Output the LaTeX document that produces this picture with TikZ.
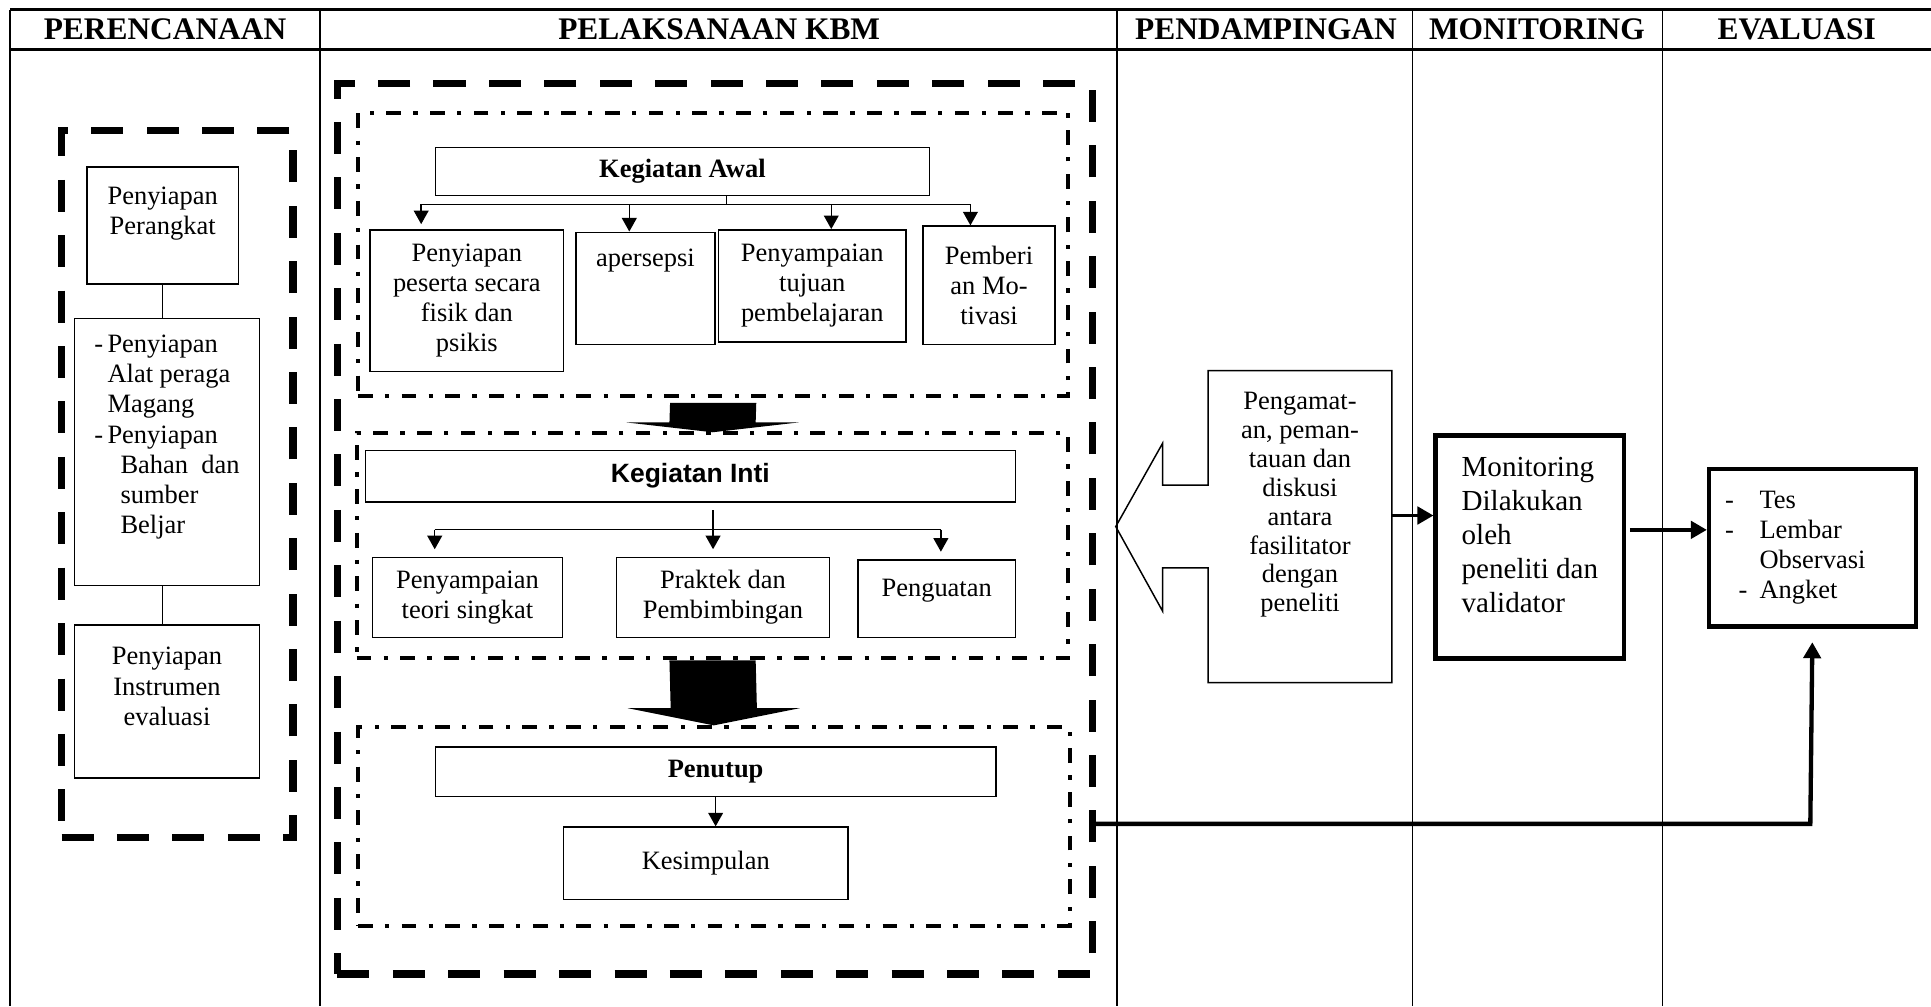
\documentclass[tikz,border=0pt]{standalone}
\usepackage{fontspec}
\setmainfont{Liberation Serif}
\newfontfamily\arialfont{Liberation Sans}
\usetikzlibrary{arrows.meta}

\begin{document}
\begin{tikzpicture}[x=1pt,y=-1pt,
  dims/.style 2 args={minimum width=#1pt,minimum height=#2pt},
  box/.style={draw,line width=1.2pt,anchor=north west,inner sep=0pt,align=center,
    font=\fontsize{21.5}{24.5}\selectfont},
  boldbox/.style={box,font=\fontsize{21.5}{24.5}\selectfont\bfseries},
  heavybox/.style={box,line width=3.5pt},
  longdash/.style={draw,line width=6pt,dash pattern=on 26pt off 19pt,
    anchor=north west,inner sep=0pt},
  dashdot/.style={draw,line width=3.2pt,dash pattern=on 12pt off 10pt on 3.5pt off 10pt,
    anchor=north west,inner sep=0pt},
  head/.style={font=\fontsize{25.5}{28}\selectfont\bfseries},
  tip/.style={line width=1.2pt,-{Triangle[length=11pt,width=12pt]}},
  heavytip/.style={line width=3.2pt,-{Triangle[length=13pt,width=14pt]}}
]
\useasboundingbox (0,0) rectangle (1568,817);

% table frame and column titles
\draw[line width=2.4pt] (8,8) -- (1568,8) (8,40) -- (1568,40);
\draw[line width=2pt] (8,8) -- (8,817);
\foreach \x in {260,907,1147,1350}
  \draw[line width=1.3pt] (\x,8) -- (\x,817);
\node[head] (hren) at (134,24) {PERENCANAAN};
\node[head] (hkbm) at (584,24) {PELAKSANAAN KBM};
\node[head] (hpend) at (1028,24) {PENDAMPINGAN};
\node[head] (hmon) at (1248,24) {MONITORING};
\node[head] (heval) at (1459,24) {EVALUASI};

% perencanaan
\node[longdash,dims={188}{574}] (ren) at (47,103) {};
\node[box,dims={123}{95}] (prep) at (70,135) {Penyiapan\\Perangkat\\~};
\node[box,dims={150}{217}] (alat) at (60,258) {%
  \begin{tabular}{@{}r@{\,}l@{}}
  -&Penyiapan\\ &Alat peraga\\ &Magang\\
  -&Penyiapan\\ &\hspace*{10.6pt}Bahan\ \ dan\\ &\hspace*{10.6pt}sumber\\
   &\hspace*{10.6pt}Beljar\\ &
  \end{tabular}};
\node[box,dims={150}{124}] (instr) at (60,507) {Penyiapan\\Instrumen\\evaluasi\\~};
\draw[line width=1.2pt] (prep.south) -- (prep.south |- alat.north)
  (prep.south |- alat.south) -- (prep.south |- instr.north);

% pelaksanaan kbm
\node[longdash,dims={613}{723}] (kbm) at (271,65) {};

% kegiatan awal
\node[dashdot,dims={577}{230}] (awalframe) at (289,90) {};
\node[boldbox,dims={401}{39}] (awal) at (353,119) {Kegiatan Awal};
\node[box,dims={157}{115}] (siap) at (300,186) {Penyiapan\\peserta secara\\fisik dan\\psikis};
\node[box,dims={113}{91}] (apers) at (467,188) {apersepsi\\~\\~};
\node[box,dims={152}{91}] (tujuan) at (583,186) {Penyampaian\\tujuan\\pembelajaran};
\node[box,dims={107}{96}] (motiv) at (749,183) {Pemberi\\an Mo-\\tivasi};
\coordinate (awj) at (590,166);
\coordinate (awl) at (342,166);
\coordinate (awr) at (788,166);
\draw[line width=1.2pt] (awal.south -| awj) -- (awj) (awl) -- (awr);
\draw[tip,shorten >=4pt] (awl) -- (awl |- siap.north);
\draw[tip] (511,166) -- (511,166 |- apers.north);
\draw[tip] (675,166) -- (675,166 |- tujuan.north);
\draw[tip] (awr) -- (awr |- motiv.north);

% kegiatan inti
\node[dashdot,dims={578}{183}] (intiframe) at (288,350) {};
\node[box,dims={528}{42},font=\fontsize{21.5}{24.5}\selectfont\arialfont\bfseries]
  (inti) at (296,365) {Kegiatan Inti};
\node[box,dims={154}{65}] (teori) at (302,452) {Penyampaian\\teori singkat};
\node[box,dims={173}{65}] (praktek) at (500,452) {Praktek dan\\Pembimbingan};
\node[box,dims={128}{63}] (kuat) at (696,454) {Penguatan\\[-7pt]~};
\coordinate (inj) at (579,430);
\coordinate (inl) at (353,430);
\coordinate (inr) at (764,430);
\draw[line width=1.2pt] (inl) -- (inr);
\draw[tip,shorten <=6pt,shorten >=6pt] (inti.south -| inj) -- (inj |- praktek.north);
\draw[tip,shorten >=6pt] (inl) -- (inl |- teori.north);
\draw[tip,shorten >=6pt] (inr) -- (inr |- kuat.north);

% penutup
\node[dashdot,dims={578}{161}] (tutupframe) at (289,589) {};
\node[boldbox,dims={455}{40}] (tutup) at (353,606) {Penutup};
\node[box,dims={231}{59}] (kes) at (457,671) {Kesimpulan};
\draw[tip] (tutup.south) -- (tutup.south |- kes.north);

% block arrows between the stages
\fill ([shift={(-35,4)}]awalframe.south) -- ([shift={(35,4)}]awalframe.south)
  -- ([shift={(35,-7)}]intiframe.north) -- ([shift={(70,-7)}]intiframe.north)
  -- ([shift={(0,1)}]intiframe.north) -- ([shift={(-70,-7)}]intiframe.north)
  -- ([shift={(-35,-7)}]intiframe.north) -- cycle;
\fill ([shift={(-35,0)}]intiframe.south) -- ([shift={(35,0)}]intiframe.south)
  -- ([shift={(35,-14)}]tutupframe.north) -- ([shift={(70,-14)}]tutupframe.north)
  -- (tutupframe.north) -- ([shift={(-70,-14)}]tutupframe.north)
  -- ([shift={(-35,-14)}]tutupframe.north) -- cycle;

% pendampingan
\node[box,draw=none,dims={148}{252},font=\fontsize{21.5}{23.5}\selectfont] (obs) at (981,301)
  {Pengamat-\\an, peman-\\tauan dan\\diskusi\\antara\\fasilitator\\dengan\\peneliti\\[16.5pt]~};
\draw[line width=1.2pt] (obs.north west) -- (obs.north east) -- (obs.south east)
  -- (obs.south west) -- ([shift={(0,-93)}]obs.south west)
  -- ([shift={(-37,-93)}]obs.south west) -- ([shift={(-37,-58)}]obs.south west)
  -- ([shift={(-75,0)}]obs.west) -- ([shift={(-37,59)}]obs.north west)
  -- ([shift={(-37,93)}]obs.north west) -- ([shift={(0,93)}]obs.north west) -- cycle;

% monitoring
\node[heavybox,dims={153}{181},align=left,font=\fontsize{23.6}{27.75}\selectfont]
  (mon) at (1164,352) {Monitoring\\Dilakukan\\oleh\\peneliti dan\\validator\\[-8pt]~};

% evaluasi
\node[heavybox,dims={168}{128},align=left,text width=142pt] (eval) at (1386,379)
  {\makebox[28pt][l]{-}Tes\\\makebox[28pt][l]{-}Lembar\\\hspace*{28pt}Observasi\\
   \makebox[28pt][l]{\hspace{11pt}-}Angket};

\draw[heavytip] ([yshift=9pt]obs.east) -- ([yshift=9pt]obs.east -| mon.west);
\draw[heavytip,shorten <=3pt] ([yshift=14pt]mon.east) -- ([yshift=14pt]mon.east -| eval.west);
\coordinate (fb) at (1470,669);
\draw[heavytip,line width=3.5pt,shorten >=11pt] (kbm.east |- fb) -- (fb) -- (eval.south);

\end{tikzpicture}
\end{document}
